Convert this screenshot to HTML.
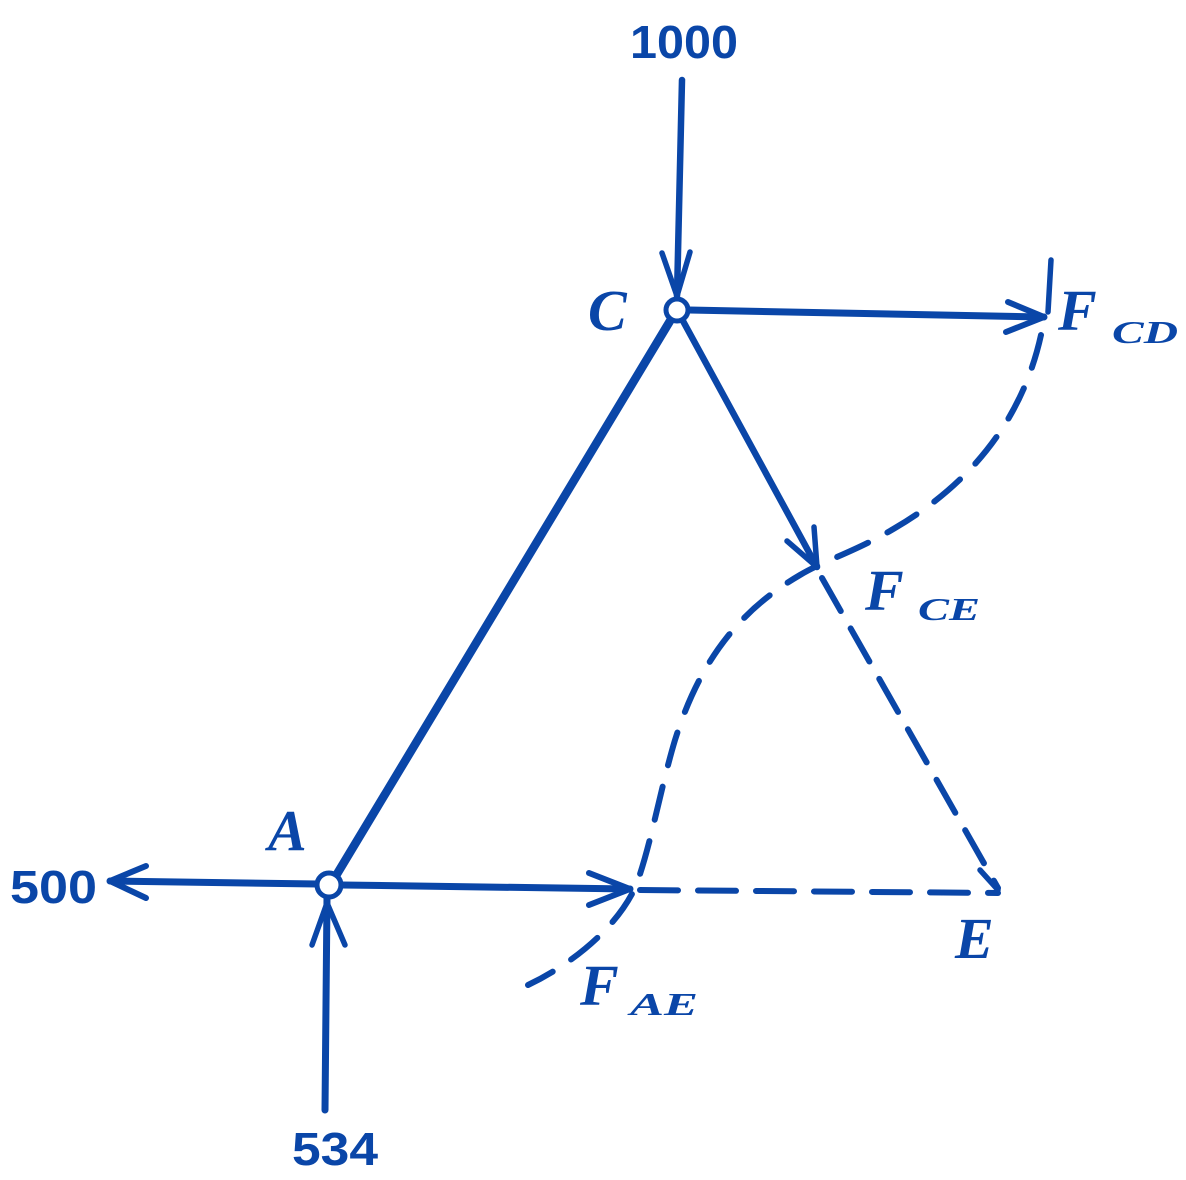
<!DOCTYPE html>
<html><head><meta charset="utf-8"><style>
html,body{margin:0;padding:0;background:#fff;}
svg{display:block}
text{font-family:"Liberation Serif",serif;font-weight:bold;fill:#0a46a8}
.n{font-family:"Liberation Sans",sans-serif;font-weight:bold}
</style></head><body>
<svg width="1186" height="1180" viewBox="0 0 1186 1180" xmlns="http://www.w3.org/2000/svg">
<g stroke="#0a46a8" fill="none" stroke-linecap="round" stroke-linejoin="round">
 <line x1="682" y1="80" x2="677" y2="296" stroke-width="6.5"/>
 <polyline points="662,253 677,296 690,252" stroke-width="5.5"/>
 <line x1="689" y1="310" x2="1044" y2="317" stroke-width="7"/>
 <polyline points="1008,302 1044,317 1006,332" stroke-width="6"/>
 <line x1="1051" y1="260" x2="1048" y2="312" stroke-width="5.5"/>
 <line x1="670" y1="321" x2="337" y2="874" stroke-width="8.5"/>
 <line x1="683" y1="321" x2="817" y2="567" stroke-width="6.5"/>
 <polyline points="787,541 817,567 814,527" stroke-width="5.5"/>
 <line x1="822" y1="578" x2="998" y2="888" stroke-width="6" stroke-dasharray="38,20"/>
 <polyline points="980,870 998,890" stroke-width="5.5"/>
 <line x1="318" y1="884" x2="110" y2="881" stroke-width="7"/>
 <polyline points="146,866 110,881 146,898" stroke-width="6"/>
 <line x1="342" y1="885" x2="630" y2="889" stroke-width="7"/>
 <polyline points="589,873 630,889 589,905" stroke-width="6"/>
 <line x1="640" y1="890" x2="998" y2="893" stroke-width="6" stroke-dasharray="38,20"/>
 <line x1="325" y1="1110" x2="327" y2="898" stroke-width="7"/>
 <polyline points="312,945 327,903 345,945" stroke-width="5.5"/>
 <path d="M1041,335 C1020,430 960,490 895,528 C855,552 825,560 800,575 C740,610 700,660 675,740 C660,790 650,850 635,888 C615,930 570,965 528,985" stroke-width="6" stroke-dasharray="34,22"/>
 <circle cx="677" cy="310" r="11" fill="#fff" stroke-width="5"/>
 <circle cx="329" cy="885" r="12" fill="#fff" stroke-width="5"/>
</g>
<text class="n" x="630" y="58" font-size="46" textLength="108" lengthAdjust="spacingAndGlyphs">1000</text>
<text x="588" y="330" font-size="58" font-style="italic">C</text>
<text x="1058" y="330" font-size="58" font-style="italic">F</text>
<text x="1112" y="343" font-size="32" font-style="italic" textLength="66" lengthAdjust="spacingAndGlyphs">CD</text>
<text x="865" y="610" font-size="58" font-style="italic">F</text>
<text x="918" y="620" font-size="32" font-style="italic" textLength="62" lengthAdjust="spacingAndGlyphs">CE</text>
<text x="268" y="850" font-size="58" font-style="italic">A</text>
<text class="n" x="10" y="903" font-size="46" textLength="87" lengthAdjust="spacingAndGlyphs">500</text>
<text x="955" y="958" font-size="58" font-style="italic">E</text>
<text x="580" y="1005" font-size="58" font-style="italic">F</text>
<text x="630" y="1015" font-size="32" font-style="italic" textLength="68" lengthAdjust="spacingAndGlyphs">AE</text>
<text class="n" x="292" y="1165" font-size="46" textLength="86" lengthAdjust="spacingAndGlyphs">534</text>
</svg>
</body></html>
